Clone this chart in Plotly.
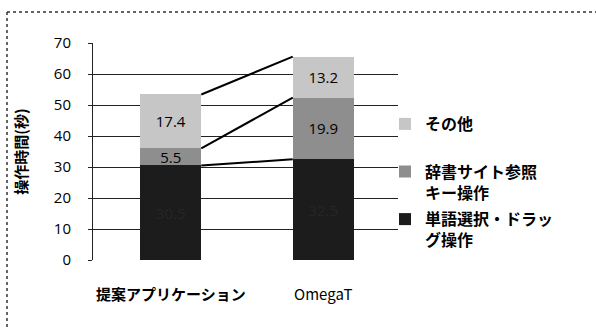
import plotly.graph_objects as go

categories = ["提案アプリケーション", "OmegaT"]
series_names = ["単語選択・ドラッ<br>グ操作", "辞書サイト参照<br>キー操作", "その他<br>&nbsp;"]
word_drag = [30.5, 32.5]
dict_key = [5.5, 19.9]
other = [17.4, 13.2]
yticks = [0, 10, 20, 30, 40, 50, 60, 70]

colors = ["#1c1c1c", "#8e8e8e", "#c6c6c6"]
text_colors = ["#262626", "black", "black"]
series_vals = [word_drag, dict_key, other]

xpos = list(range(len(categories)))
bw = 0.4
JP = "Noto Sans CJK JP"
NUM = "Open Sans"

fig = go.Figure()
n = len(series_names)
for i, (name, vals, c, tc) in enumerate(zip(series_names, series_vals, colors, text_colors)):
    fig.add_trace(go.Bar(
        x=xpos, y=vals, name=f"<b>{name}</b>", width=bw, legendgroup=f"g{i}",
        legendrank=n - i,
        marker=dict(color=c, line=dict(width=0)),
        text=[f"{v:.1f}" for v in vals], textposition="inside",
        insidetextanchor="middle", constraintext="none",
        textfont=dict(family=NUM, size=15, color=tc),
    ))

# series lines connecting stack tops
cum = [0, 0]
for vals in series_vals:
    cum = [cum[i] + vals[i] for i in range(2)]
    fig.add_trace(go.Scatter(
        x=[xpos[0] + bw / 2, xpos[1] - bw / 2], y=list(cum), mode="lines",
        line=dict(color="black", width=2), showlegend=False, hoverinfo="skip"))

L, T, R, B = 93, 43, 198, 69
pw, ph = 596 - L - R, 329 - T - B

def px(x):
    return (x - L) / pw

def py(y):
    return (329 - B - y) / ph

fig.update_layout(
    width=596, height=329, barmode="stack",
    margin=dict(l=L, r=R, t=T, b=B),
    paper_bgcolor="white", plot_bgcolor="white",
    font=dict(family=JP, color="black"),
    uniformtext=dict(minsize=15, mode="show"),
    showlegend=True,
    legend=dict(traceorder="grouped", x=px(385), xanchor="left", y=py(107), yanchor="top",
                font=dict(family=JP, size=16, color="black"), valign="top",
                itemwidth=30, tracegroupgap=3, bgcolor="rgba(0,0,0,0)"),
    xaxis=dict(range=[-0.51, 1.49], tickvals=xpos,
               ticktext=[f"<b>{categories[0]}</b>", categories[1]],
               showgrid=False, zeroline=False, showline=False, ticks="",
               ticklabelstandoff=24,
               tickfont=dict(family=JP, size=15, color="black")),
    yaxis=dict(range=[0, 70], tickvals=yticks, showgrid=True, gridcolor="#222222",
               gridwidth=1, zeroline=False, showline=True, linecolor="#222222",
               linewidth=1, ticks="outside", ticklen=4, tickcolor="#222222",
               ticklabelstandoff=14,
               tickfont=dict(family=NUM, size=15, color="black"),
               title=dict(text="<b>操作時間(秒)</b>", standoff=22,
                          font=dict(family=JP, size=15, color="black"))),
)

# outer chart frame (dotted, cropped on right and bottom)
frame = dict(type="line", xref="paper", yref="paper",
             line=dict(color="#333333", width=1.5, dash="dot"))
fig.add_shape(**frame, x0=px(7), x1=px(600), y0=py(12), y1=py(12))
fig.add_shape(**frame, x0=px(7), x1=px(7), y0=py(12), y1=py(335))

fig.write_html("out.html")
